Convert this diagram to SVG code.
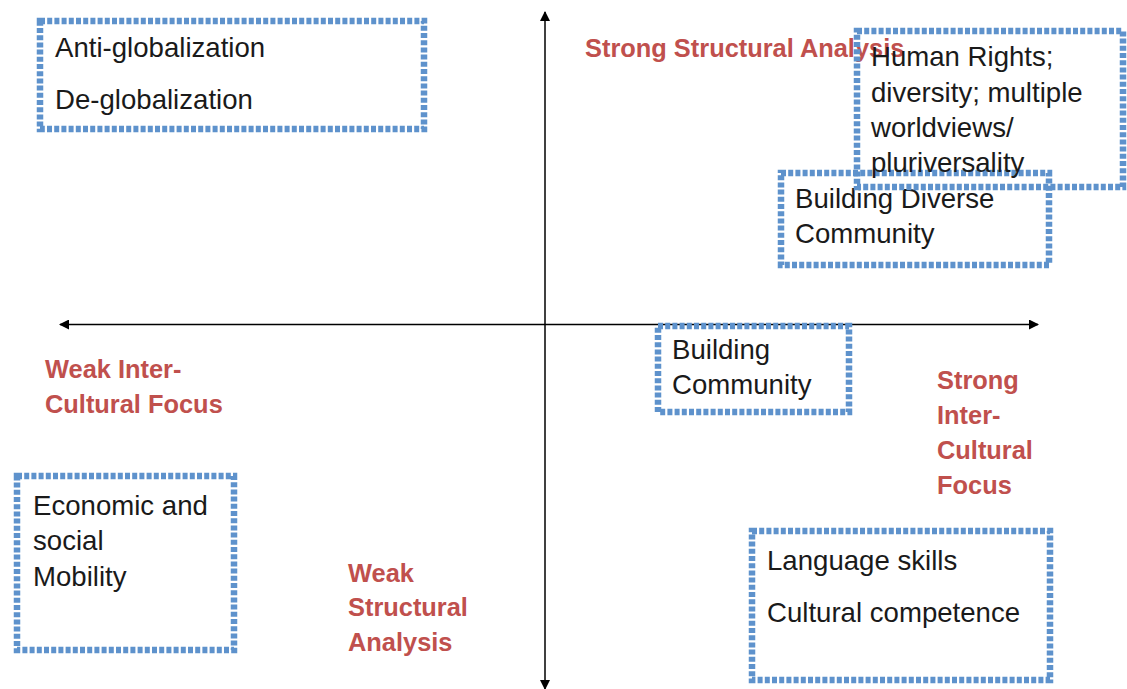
<svg xmlns="http://www.w3.org/2000/svg" width="1127" height="689" viewBox="0 0 1127 689">
<defs>
<style>
.box{fill:none;stroke:#5E92CC;stroke-width:6.5;stroke-dasharray:5 2.2}
.t{font-family:"Liberation Sans",Arial,sans-serif;font-size:27.6px;fill:#1a1a1a}
.r{font-family:"Liberation Sans",Arial,sans-serif;font-size:25.4px;font-weight:bold;fill:#C0504D}
.axis{stroke:#000;stroke-width:1.5;fill:none}
</style>
<marker id="ah" viewBox="0 0 10 10" refX="9" refY="5" markerWidth="10" markerHeight="10" markerUnits="userSpaceOnUse" orient="auto-start-reverse">
<path d="M0,0 L10,5 L0,10 z" fill="#000"/>
</marker>
</defs>
<rect width="1127" height="689" fill="#fff"/>
<g id="connectors">
<line class="axis" x1="545" y1="12" x2="545" y2="689" marker-start="url(#ah)" marker-end="url(#ah)"/>
<line class="axis" x1="60" y1="324.5" x2="1038" y2="324.5" marker-start="url(#ah)" marker-end="url(#ah)"/>
</g>
<g id="labels">
<text class="r" x="585" y="57">Strong Structural Analysis</text>
<text class="r" x="45" y="378">Weak Inter-</text>
<text class="r" x="45" y="413">Cultural Focus</text>
<text class="r" x="348" y="582">Weak</text>
<text class="r" x="348" y="616">Structural</text>
<text class="r" x="348" y="651">Analysis</text>
<text class="r" x="937" y="389">Strong</text>
<text class="r" x="937" y="424">Inter-</text>
<text class="r" x="937" y="459">Cultural</text>
<text class="r" x="937" y="494">Focus</text>
</g>
<g id="node-globalization">
<rect class="box" x="40" y="21" width="384" height="108"/>
<text class="t" x="55" y="57">Anti-globalization</text>
<text class="t" x="55" y="109">De-globalization</text>
</g>
<g id="node-diverse-community">
<rect class="box" x="781" y="173" width="268" height="92"/>
<text class="t" x="795" y="208">Building Diverse</text>
<text class="t" x="795" y="243">Community</text>
</g>
<g id="node-human-rights">
<rect class="box" x="857" y="31" width="266" height="156"/>
<text class="t" x="871" y="66">Human Rights;</text>
<text class="t" x="871" y="102">diversity; multiple</text>
<text class="t" x="871" y="137">worldviews/</text>
<text class="t" x="871" y="172">pluriversality</text>
</g>
<g id="node-building-community">
<rect class="box" x="658" y="326" width="191" height="86"/>
<text class="t" x="672" y="359">Building</text>
<text class="t" x="672" y="394">Community</text>
</g>
<g id="node-mobility">
<rect class="box" x="17" y="476" width="217" height="174"/>
<text class="t" x="33" y="515">Economic and</text>
<text class="t" x="33" y="550">social</text>
<text class="t" x="33" y="586">Mobility</text>
</g>
<g id="node-language">
<rect class="box" x="752" y="531" width="298" height="149"/>
<text class="t" x="767" y="570">Language skills</text>
<text class="t" x="767" y="622">Cultural competence</text>
</g>
</svg>
